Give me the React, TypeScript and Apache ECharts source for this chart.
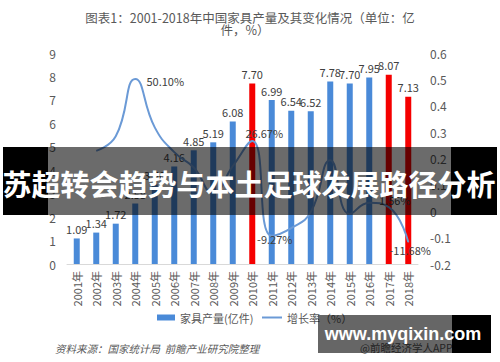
import React, { useEffect, useRef } from "react";
import * as echarts from "echarts";

const years = ["2001年","2002年","2003年","2004年","2005年","2006年","2007年","2008年","2009年","2010年","2011年","2012年","2013年","2014年","2015年","2016年","2017年","2018年"];
const output = [1.09, 1.34, 1.72, 2.58, 3.4, 4.16, 4.85, 5.19, 6.08, 7.7, 6.99, 6.54, 6.52, 7.78, 7.7, 7.95, 8.07, 7.13];
const growth: (number | null)[] = [null, 0.229, 0.284, 0.501, 0.318, 0.224, 0.166, 0.07, 0.171, 0.2667, -0.0927, -0.064, -0.003, 0.193, -0.01, 0.032, 0.0156, -0.1168];
const redYears = ["2010年", "2017年", "2018年"];
const growthLabelYears = ["2004年", "2010年", "2011年", "2017年", "2018年"];
const growthLabelTexts = ["50.10%", "26.67%", "-9.27%", "1.56%", "-11.68%"];
const leftTicks = { min: 0, max: 9, interval: 1 };
const rightTicks = { min: -0.2, max: 0.6, interval: 0.1 };
const barName = "家具产量(亿件)";
const lineName = "增长率（%）";
const titleLines = ["图表1：2001-2018年中国家具产量及其变化情况（单位：亿", "件，%）"];
const sourceText = "资料来源：国家统计局  前瞻产业研究院整理";
const appText = "@前瞻经济学人APP";
const bannerText = "苏超转会趋势与本土足球发展路径分析";
const siteText = "www.myqixin.com";

const FONT = '"Noto Sans CJK SC", "Noto Sans", sans-serif';
const BLUE = "#4a8ad8";
const RED = "#f50000";
const LINE = "#6b9ad6";
const GRAY = "#595959";

// label offsets (style) per labelled year index in growthLabelYears
const labelOffsets: [number, number][] = [[30, 13], [12, 3], [3, 14], [6, 4], [2, 19]];

export default function App() {
  const ref = useRef<HTMLDivElement>(null);
  useEffect(() => {
    document.body.style.margin = "0";
    if (!ref.current) return;
    const chart = echarts.init(ref.current, null, { renderer: "svg" });
    const barData = output.map((v, i) => ({
      value: v,
      itemStyle: { color: redYears.includes(years[i]) ? RED : BLUE },
    }));
    const lineData = growth.map((v, i) => {
      const li = growthLabelYears.indexOf(years[i]);
      if (li < 0 || v === null) return v;
      return {
        value: v,
        symbol: "circle",
        symbolSize: 1,
        label: {
          show: true,
          position: "top",
          offset: labelOffsets[li],
          formatter: growthLabelTexts[li],
          fontSize: 11,
          color: "#404040",
        },
      };
    });
    const legendText = { fontSize: 11, color: GRAY, fontFamily: FONT };
    chart.setOption({
      animation: false,
      textStyle: { fontFamily: FONT },
      grid: { left: 67, right: 82, top: 53, bottom: 98 },
      legend: [
        {
          left: 152,
          top: 307,
          itemWidth: 18,
          itemHeight: 6,
          itemGap: 0,
          textStyle: legendText,
          data: [{ name: barName, icon: "rect" }],
        },
        {
          left: 257,
          top: 307,
          itemWidth: 20,
          itemHeight: 6,
          itemGap: 0,
          textStyle: legendText,
          data: [{ name: lineName, icon: "path://M0,0H20V2H0Z", itemStyle: { color: LINE } }],
        },
      ],
      xAxis: {
        type: "category",
        data: years,
        axisLine: { lineStyle: { color: "#d9d9d9" } },
        axisTick: { show: false },
        axisLabel: { rotate: 90, fontSize: 11, color: GRAY, margin: 7, interval: 0 },
      },
      yAxis: [
        {
          type: "value",
          ...leftTicks,
          splitLine: { show: false },
          axisLine: { show: false },
          axisTick: { show: false },
          axisLabel: { fontSize: 12, color: GRAY, margin: 11 },
        },
        {
          type: "value",
          ...rightTicks,
          splitLine: { show: false },
          axisLine: { show: false },
          axisTick: { show: false },
          axisLabel: {
            fontSize: 12,
            color: GRAY,
            margin: 12,
            formatter: (v: number) => (Math.abs(v) < 1e-9 ? "0" : v.toFixed(1)),
          },
        },
      ],
      series: [
        {
          name: barName,
          type: "bar",
          barWidth: 6,
          itemStyle: { color: BLUE },
          data: barData,
          label: {
            show: true,
            position: "top",
            distance: 4,
            fontSize: 11,
            color: "#404040",
            formatter: (p: any) => Number(p.value).toFixed(2),
          },
        },
        {
          name: lineName,
          type: "line",
          yAxisIndex: 1,
          smooth: 0.5,
          data: lineData,
          symbol: "none",
          showSymbol: true,
          itemStyle: { color: LINE },
          lineStyle: { color: LINE, width: 2 },
          label: { show: false },
        },
      ],
      graphic: [
        {
          type: "text",
          z: 50,
          style: { text: titleLines[0], x: 250, y: 17, align: "center", verticalAlign: "middle", fontSize: 12.5, fill: GRAY, fontFamily: FONT },
        },
        {
          type: "text",
          z: 50,
          style: { text: titleLines[1], x: 245, y: 29, align: "center", verticalAlign: "middle", fontSize: 12.5, fill: GRAY, fontFamily: FONT },
        },
        {
          type: "text",
          z: 50,
          style: { text: sourceText, x: 55, y: 348, verticalAlign: "middle", fontSize: 10.5, fontStyle: "italic", fill: GRAY, fontFamily: FONT },
        },
        {
          type: "text",
          z: 50,
          style: { text: appText, x: 360, y: 347, verticalAlign: "middle", fontSize: 10.5, fill: GRAY, fontFamily: FONT },
        },
        { type: "rect", z: 100, shape: { x: 3, y: 147, width: 45, height: 68 }, style: { fill: "#000" } },
        { type: "rect", z: 100, shape: { x: 48, y: 147, width: 403, height: 68 }, style: { fill: "rgba(0,0,0,0.58)" } },
        { type: "rect", z: 100, shape: { x: 451, y: 147, width: 46, height: 68 }, style: { fill: "#000" } },
        {
          type: "text",
          z: 101,
          style: { text: bannerText, x: 249, y: 183, align: "center", verticalAlign: "middle", fontSize: 29, fontWeight: "bold", fill: "#fff", fontFamily: FONT },
        },
        { type: "rect", z: 100, shape: { x: 318, y: 315, width: 134, height: 38 }, style: { fill: "rgba(0,0,0,0.6)" } },
        { type: "rect", z: 100, shape: { x: 452, y: 315, width: 39, height: 38 }, style: { fill: "#000" } },
        {
          type: "text",
          z: 101,
          style: { text: siteText, x: 403, y: 334, align: "center", verticalAlign: "middle", fontSize: 18, fontWeight: "bold", fill: "#fff", fontFamily: '"Liberation Sans", Arial, sans-serif' },
        },
      ],
    });
    return () => chart.dispose();
  }, []);
  return <div ref={ref} style={{ width: 500, height: 362 }} />;
}
